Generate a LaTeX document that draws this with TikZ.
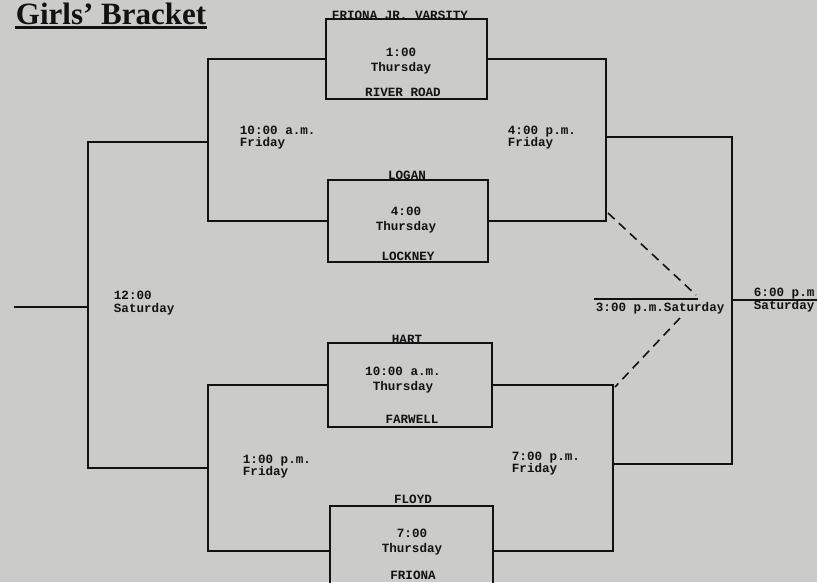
\documentclass[tikz,border=0pt]{standalone}
\usepackage{fontspec}
\setmainfont{Liberation Serif}
\setmonofont{Liberation Mono}
\definecolor{paper}{RGB}{203,203,201}
\definecolor{ink}{RGB}{18,18,18}
\begin{document}
\begin{tikzpicture}[x=1pt,y=-1pt,
  line width=1.8pt, ink,
  bline/.style={draw=ink, line width=1.9pt, line cap=rect},
  gamebox/.style={draw=ink, line width=2pt, minimum width=#1, inner sep=0pt},
  lbl/.style={font=\ttfamily\bfseries\fontsize{12.6}{12.8}\selectfont, text=ink, inner sep=0pt, align=left, anchor=west},
  clbl/.style={font=\ttfamily\bfseries\fontsize{12.6}{14.5}\selectfont, text=ink, inner sep=0pt, align=center},
  dashline/.style={draw=ink, line width=1.6pt, dash pattern=on 9pt off 6pt}]
\fill[paper] (0,0) rectangle (817,582);
\useasboundingbox (0,0) rectangle (817,582);
\clip (0,0) rectangle (817,582);

% title
\node[anchor=base west, inner sep=0pt, font=\bfseries\fontsize{31}{33}\selectfont, text=ink] (title) at (15,24) {Girls' Bracket};
\draw[line width=2.6pt] ([yshift=-3.5pt]title.base west) -- ([yshift=-3.5pt]title.base east);

% game boxes
\node[gamebox=161pt, minimum height=80pt] (b1) at (406.5,59) {};
\node[gamebox=160pt, minimum height=82pt] (b2) at (408,221) {};
\node[gamebox=164pt, minimum height=84pt] (b3) at (410,385) {};
\node[gamebox=163pt, minimum height=90pt] (b4) at (411.5,551) {};

% team names and times in boxes
\node[clbl] (t1) at (400,15) {FRIONA JR. VARSITY};
\node[clbl] (g1) at (401,61) {1:00\\Thursday};
\node[clbl] (t2) at (403,92) {RIVER ROAD};
\node[clbl] (t3) at (407,175) {LOGAN};
\node[clbl] (g2) at (406,220) {4:00\\Thursday};
\node[clbl] (t4) at (408,256) {LOCKNEY};
\node[clbl] (t5) at (407,339) {HART};
\node[clbl] (g3) at (403,380) {10:00 a.m.\\Thursday};
\node[clbl] (t6) at (412,419) {FARWELL};
\node[clbl] (t7) at (413,499) {FLOYD};
\node[clbl] (g4) at (412,542) {7:00\\Thursday};
\node[clbl] (t8) at (413,575) {FRIONA};

% junction coordinates
\coordinate (q1) at (208,142);
\coordinate (q2) at (606,137);
\coordinate (q3) at (208,468);
\coordinate (q4) at (613,464);
\coordinate (s1) at (88,307);
\coordinate (f) at (732,300);
\coordinate (lend) at (15,307);
\coordinate (rend) at (830,300);
\coordinate (c1) at (595,299);
\coordinate (c2) at (697,299);
\coordinate (d1) at (608,213);
\coordinate (d2) at (696,295);
\coordinate (d3) at (680,318);
\coordinate (d4) at (615,387);

% bracket lines
\draw[bline] (b1.west) -| (q1) |- (b2.west);
\draw[bline] (b3.west) -| (q3) |- (b4.west);
\draw[bline] (q1) -| (s1) |- (q3);
\draw[bline] (s1) -- (lend);
\draw[bline] (b1.east) -| (q2) |- (b2.east);
\draw[bline] (b3.east) -| (q4) |- (b4.east);
\draw[bline] (q2) -| (f) |- (q4);
\draw[bline] (f) -- (rend);
\draw[bline] (c1) -- (c2);
\draw[dashline] (d1) -- (d2);
\draw[dashline] (d3) -- (d4);

% round labels
\node[lbl] (r1) at (239,137.5) {10:00 a.m.\\Friday};
\node[lbl] (r2) at (507,137.5) {4:00 p.m.\\Friday};
\node[lbl] (r3) at (242,466.5) {1:00 p.m.\\Friday};
\node[lbl] (r4) at (511,463.5) {7:00 p.m.\\Friday};
\node[lbl] (r5) at (113,303) {12:00\\Saturday};
\node[lbl] (r6) at (753,300) {6:00 p.m\\Saturday};
\node[lbl] (r7) at (595,308) {3:00 p.m.Saturday};
\end{tikzpicture}
\end{document}
